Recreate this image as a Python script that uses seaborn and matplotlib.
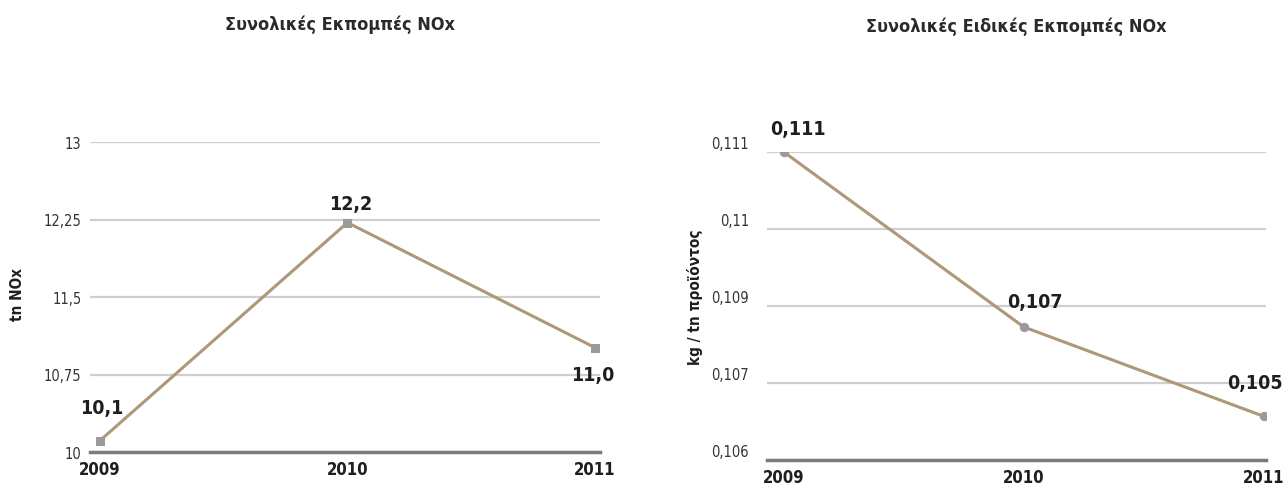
import matplotlib.pyplot as plt
from matplotlib.transforms import ScaledTranslation
import pandas as pd
import seaborn as sns

# data
years = [2009, 2010, 2011]
nox_total = [10.11, 12.22, 11.01]
nox_total_labels = ["10,1", "12,2", "11,0"]
nox_specific = [0.111, 0.10816, 0.10671]
nox_specific_labels = ["0,111", "0,107", "0,105"]

left_ticks = [10, 10.75, 11.5, 12.25, 13]
left_ticklabels = ["10", "10,75", "11,5", "12,25", "13"]
right_ticks = [0.106, 0.10725, 0.1085, 0.10975, 0.111]
right_ticklabels = ["0,106", "0,107", "0,109", "0,11", "0,111"]

sns.set_style("white")
plt.rcParams['font.family'] = ['DejaVu Sans']
plt.rcParams['font.stretch'] = 'condensed'

line_color = '#ad9878'
grid_color = '#cfcfcf'
axis_color = '#7a7a7a'
text_color = '#1e1e1e'

fig = plt.figure(figsize=(12.88, 4.85), dpi=100)
ax1 = fig.add_axes([90 / 1288, 32 / 485, 510 / 1288, 310 / 485])
ax2 = fig.add_axes([767 / 1288, 24 / 485, 499 / 1288, 308 / 485])

df1 = pd.DataFrame({'year': years, 'value': nox_total})
df2 = pd.DataFrame({'year': years, 'value': nox_specific})


def style_axes(ax, ticks, ticklabels, ylim, xlim, pad):
    ax.set_ylim(*ylim)
    ax.set_xlim(*xlim)
    ax.set_yticks(ticks)
    ax.set_yticklabels(ticklabels)
    ax.set_xticks(years)
    ax.set_xticklabels([str(y) for y in years])
    ax.grid(axis='y', color=grid_color, lw=1.6)
    ax.grid(axis='x', visible=False)
    for s in ['top', 'right', 'left']:
        ax.spines[s].set_visible(False)
    ax.spines['bottom'].set_color(axis_color)
    ax.spines['bottom'].set_linewidth(2.5)
    ax.tick_params(axis='y', length=0, pad=pad, labelsize=10.5, labelcolor='#333333')
    ax.tick_params(axis='x', length=0, pad=6, labelsize=12, labelcolor=text_color)
    for t in ax.get_xticklabels():
        t.set_fontweight('bold')
    ax.set_xlabel("")
    ax.set_ylabel("")
    ax.set_axisbelow(True)


sns.lineplot(df1, x='year', y='value', ax=ax1, color=line_color, lw=2.2,
             marker='s', markersize=6, markerfacecolor='#9a9a9a', markeredgecolor='#9a9a9a')
sns.lineplot(df2, x='year', y='value', ax=ax2, color=line_color, lw=2.2,
             marker='o', markersize=6, markerfacecolor='#9a9a9a', markeredgecolor='#9a9a9a')

style_axes(ax1, left_ticks, left_ticklabels, (10, 13), (2008.96, 2011.02), 6)
style_axes(ax2, right_ticks, right_ticklabels, (0.106, 0.111), (2008.93, 2011.01), 13)

# right panel tick labels sit a bit above their grid lines
shift = ScaledTranslation(0, 0.1, fig.dpi_scale_trans)
for t in ax2.get_yticklabels():
    t.set_transform(t.get_transform() + shift)

fig.text(17 / 1288, 1 - 295 / 485, "tn NOx", rotation=90, ha='center', va='center',
         fontsize=11, fontweight='bold', color=text_color)
fig.text(695 / 1288, 1 - 297 / 485, "kg / tn προϊόντος", rotation=90, ha='center', va='center',
         fontsize=11, fontweight='bold', color=text_color)

offsets1 = [(1, 24), (2, 14), (-2, -19)]
for x, y, lab, off in zip(years, nox_total, nox_total_labels, offsets1):
    ax1.annotate(lab, (x, y), xytext=off, textcoords='offset points',
                 ha='center', va='center', fontsize=14, fontweight='bold', color=text_color)

offsets2 = [(10, 17), (8, 18), (-6, 24)]
for x, y, lab, off in zip(years, nox_specific, nox_specific_labels, offsets2):
    ax2.annotate(lab, (x, y), xytext=off, textcoords='offset points',
                 ha='center', va='center', fontsize=14, fontweight='bold', color=text_color,
                 annotation_clip=False)

fig.text(340 / 1288, 1 - 25 / 485, "Συνολικές Εκπομπές NOx", ha='center', va='center',
         fontsize=13, fontweight='bold', color='#2a2a2a')
fig.text(1016 / 1288, 1 - 27 / 485, "Συνολικές Ειδικές Εκπομπές NOx", ha='center', va='center',
         fontsize=13, fontweight='bold', color='#2a2a2a')

plt.savefig("out.png", dpi=100)
